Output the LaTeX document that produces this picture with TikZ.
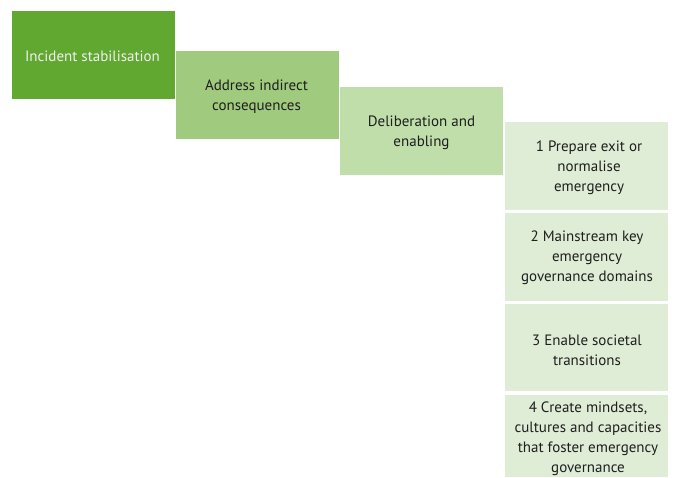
\documentclass[tikz,border=0pt]{standalone}
\usepackage{fontspec}
\setmainfont{PT Sans}
\definecolor{gA}{HTML}{60A82F}
\definecolor{gB}{HTML}{A0CB7E}
\definecolor{gC}{HTML}{C0DEAA}
\definecolor{gD}{HTML}{E0EDD6}
\definecolor{txt}{HTML}{1E1E1E}
\begin{document}
\begin{tikzpicture}[x=1pt,y=-1pt,
  stepbox/.style={inner sep=0pt, align=center, text=txt,
    font=\fontsize{15}{20}\selectfont}]
\useasboundingbox (0,0) rectangle (676,477);
% boxes
\fill[gA] (12,11) rectangle (175,99);
\fill[gB] (176,51) rectangle (339,139);
\fill[gC] (340,87) rectangle (503,175);
\fill[gD] (505,122) rectangle (668,210);
\fill[gD] (505,213) rectangle (668,301);
\fill[gD] (505,304) rectangle (668,391);
\fill[gD] (505,395) rectangle (668,477);
% labels
\node[stepbox, text=white!94!black] (a) at (92.5,56) {Incident stabilisation};
\node[stepbox] (b) at (256.5,97) {Address indirect\\consequences};
\node[stepbox] (c) at (421.5,133) {Deliberation and\\enabling};
\node[stepbox] (d1) at (589,168) {1 Prepare exit or\\normalise\\emergency};
\node[stepbox] (d2) at (587,258) {2 Mainstream key\\emergency\\governance domains};
\node[stepbox] (d3) at (587,350) {3 Enable societal\\transitions};
\node[stepbox] (d4) at (588,439) {4 Create mindsets,\\cultures and capacities\\that foster emergency\\governance};
\end{tikzpicture}
\end{document}
